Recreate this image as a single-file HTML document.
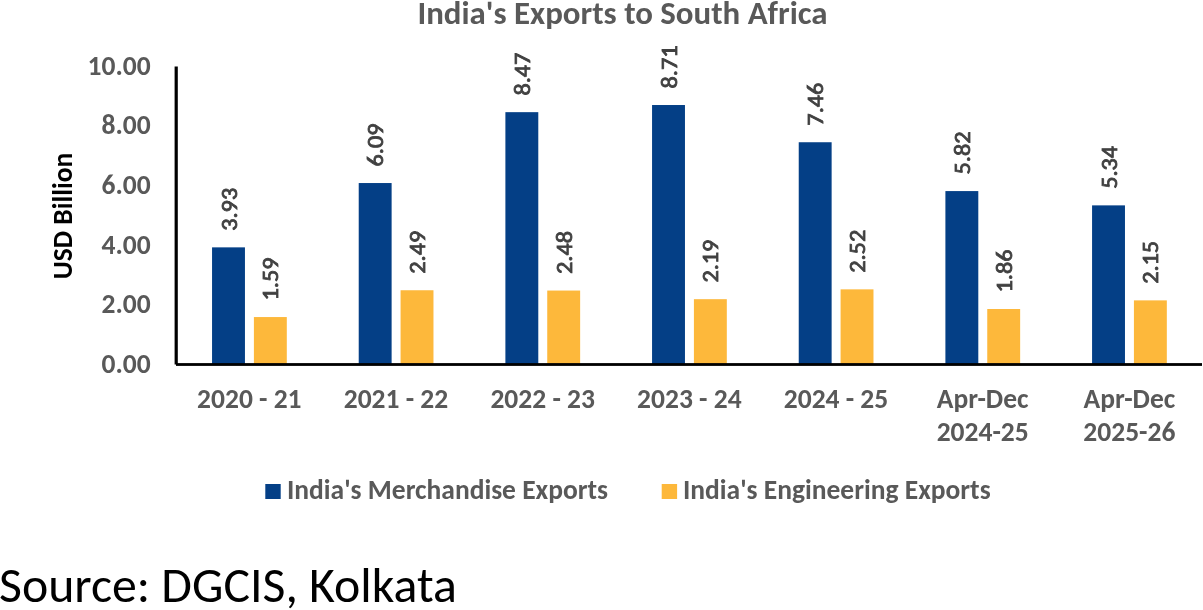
<!DOCTYPE html>
<html><head><meta charset="utf-8"><title>India's Exports to South Africa</title>
<style>
html,body{margin:0;padding:0;background:#fff;}
body{width:1203px;height:610px;overflow:hidden;}
svg{display:block;font-family:Carlito, 'Liberation Sans', Arial, sans-serif;will-change:transform;}
</style></head>
<body>
<svg width="1203" height="610" viewBox="0 0 1203 610">
<rect width="1203" height="610" fill="#fff"/>
<text x="622.5" y="23.5" font-size="32.9" font-weight="700" fill="#595959" text-anchor="middle" textLength="410.23" lengthAdjust="spacingAndGlyphs">India's Exports to South Africa</text>
<text x="150.7" y="372.70" font-size="27.5" font-weight="700" fill="#595959" text-anchor="end" textLength="49.17" lengthAdjust="spacingAndGlyphs">0.00</text>
<text x="150.7" y="313.14" font-size="27.5" font-weight="700" fill="#595959" text-anchor="end" textLength="49.17" lengthAdjust="spacingAndGlyphs">2.00</text>
<text x="150.7" y="253.58" font-size="27.5" font-weight="700" fill="#595959" text-anchor="end" textLength="49.17" lengthAdjust="spacingAndGlyphs">4.00</text>
<text x="150.7" y="194.02" font-size="27.5" font-weight="700" fill="#595959" text-anchor="end" textLength="49.17" lengthAdjust="spacingAndGlyphs">6.00</text>
<text x="150.7" y="134.46" font-size="27.5" font-weight="700" fill="#595959" text-anchor="end" textLength="49.17" lengthAdjust="spacingAndGlyphs">8.00</text>
<text x="150.7" y="74.90" font-size="27.5" font-weight="700" fill="#595959" text-anchor="end" textLength="63.11" lengthAdjust="spacingAndGlyphs">10.00</text>
<text transform="translate(72.2 216.05) rotate(-90)" font-size="27.5" font-weight="700" fill="#000" text-anchor="middle" textLength="126.48" lengthAdjust="spacingAndGlyphs">USD Billion</text>
<rect x="212.05" y="247.36" width="32.9" height="117.04" fill="#043F86"/>
<rect x="253.90" y="317.05" width="32.9" height="47.35" fill="#FDB83B"/>
<text transform="translate(236.60 230.76) rotate(-90) scale(1 0.92)" font-size="24.2" fill="#404040" stroke="#404040" stroke-width="0.9" textLength="42.92" lengthAdjust="spacingAndGlyphs">3.93</text>
<text transform="translate(278.45 300.45) rotate(-90) scale(1 0.92)" font-size="24.2" fill="#404040" stroke="#404040" stroke-width="0.9" textLength="42.92" lengthAdjust="spacingAndGlyphs">1.59</text>
<text x="249.33" y="408" font-size="27.5" font-weight="700" fill="#595959" text-anchor="middle" textLength="104.48" lengthAdjust="spacingAndGlyphs">2020 - 21</text>
<rect x="358.72" y="183.04" width="32.9" height="181.36" fill="#043F86"/>
<rect x="400.57" y="290.25" width="32.9" height="74.15" fill="#FDB83B"/>
<text transform="translate(383.27 166.44) rotate(-90) scale(1 0.92)" font-size="24.2" fill="#404040" stroke="#404040" stroke-width="0.9" textLength="42.92" lengthAdjust="spacingAndGlyphs">6.09</text>
<text transform="translate(425.12 273.65) rotate(-90) scale(1 0.92)" font-size="24.2" fill="#404040" stroke="#404040" stroke-width="0.9" textLength="42.92" lengthAdjust="spacingAndGlyphs">2.49</text>
<text x="396.00" y="408" font-size="27.5" font-weight="700" fill="#595959" text-anchor="middle" textLength="104.48" lengthAdjust="spacingAndGlyphs">2021 - 22</text>
<rect x="505.39" y="112.16" width="32.9" height="252.24" fill="#043F86"/>
<rect x="547.24" y="290.55" width="32.9" height="73.85" fill="#FDB83B"/>
<text transform="translate(529.94 95.56) rotate(-90) scale(1 0.92)" font-size="24.2" fill="#404040" stroke="#404040" stroke-width="0.9" textLength="42.92" lengthAdjust="spacingAndGlyphs">8.47</text>
<text transform="translate(571.79 273.95) rotate(-90) scale(1 0.92)" font-size="24.2" fill="#404040" stroke="#404040" stroke-width="0.9" textLength="42.92" lengthAdjust="spacingAndGlyphs">2.48</text>
<text x="542.67" y="408" font-size="27.5" font-weight="700" fill="#595959" text-anchor="middle" textLength="104.48" lengthAdjust="spacingAndGlyphs">2022 - 23</text>
<rect x="652.06" y="105.02" width="32.9" height="259.38" fill="#043F86"/>
<rect x="693.91" y="299.18" width="32.9" height="65.22" fill="#FDB83B"/>
<text transform="translate(676.61 88.42) rotate(-90) scale(1 0.92)" font-size="24.2" fill="#404040" stroke="#404040" stroke-width="0.9" textLength="42.92" lengthAdjust="spacingAndGlyphs">8.71</text>
<text transform="translate(718.46 282.58) rotate(-90) scale(1 0.92)" font-size="24.2" fill="#404040" stroke="#404040" stroke-width="0.9" textLength="42.92" lengthAdjust="spacingAndGlyphs">2.19</text>
<text x="689.34" y="408" font-size="27.5" font-weight="700" fill="#595959" text-anchor="middle" textLength="104.48" lengthAdjust="spacingAndGlyphs">2023 - 24</text>
<rect x="798.73" y="142.24" width="32.9" height="222.16" fill="#043F86"/>
<rect x="840.58" y="289.35" width="32.9" height="75.05" fill="#FDB83B"/>
<text transform="translate(823.28 125.64) rotate(-90) scale(1 0.92)" font-size="24.2" fill="#404040" stroke="#404040" stroke-width="0.9" textLength="42.92" lengthAdjust="spacingAndGlyphs">7.46</text>
<text transform="translate(865.13 272.75) rotate(-90) scale(1 0.92)" font-size="24.2" fill="#404040" stroke="#404040" stroke-width="0.9" textLength="42.92" lengthAdjust="spacingAndGlyphs">2.52</text>
<text x="836.01" y="408" font-size="27.5" font-weight="700" fill="#595959" text-anchor="middle" textLength="104.48" lengthAdjust="spacingAndGlyphs">2024 - 25</text>
<rect x="945.40" y="191.08" width="32.9" height="173.32" fill="#043F86"/>
<rect x="987.25" y="309.01" width="32.9" height="55.39" fill="#FDB83B"/>
<text transform="translate(969.95 174.48) rotate(-90) scale(1 0.92)" font-size="24.2" fill="#404040" stroke="#404040" stroke-width="0.9" textLength="42.92" lengthAdjust="spacingAndGlyphs">5.82</text>
<text transform="translate(1011.80 292.41) rotate(-90) scale(1 0.92)" font-size="24.2" fill="#404040" stroke="#404040" stroke-width="0.9" textLength="42.92" lengthAdjust="spacingAndGlyphs">1.86</text>
<text x="982.68" y="408" font-size="27.5" font-weight="700" fill="#595959" text-anchor="middle" textLength="91.77" lengthAdjust="spacingAndGlyphs">Apr-Dec</text>
<text x="982.68" y="441" font-size="27.5" font-weight="700" fill="#595959" text-anchor="middle" textLength="92.06" lengthAdjust="spacingAndGlyphs">2024-25</text>
<rect x="1092.07" y="205.37" width="32.9" height="159.03" fill="#043F86"/>
<rect x="1133.92" y="300.37" width="32.9" height="64.03" fill="#FDB83B"/>
<text transform="translate(1116.62 188.77) rotate(-90) scale(1 0.92)" font-size="24.2" fill="#404040" stroke="#404040" stroke-width="0.9" textLength="42.92" lengthAdjust="spacingAndGlyphs">5.34</text>
<text transform="translate(1158.47 283.77) rotate(-90) scale(1 0.92)" font-size="24.2" fill="#404040" stroke="#404040" stroke-width="0.9" textLength="42.92" lengthAdjust="spacingAndGlyphs">2.15</text>
<text x="1129.36" y="408" font-size="27.5" font-weight="700" fill="#595959" text-anchor="middle" textLength="91.77" lengthAdjust="spacingAndGlyphs">Apr-Dec</text>
<text x="1129.36" y="441" font-size="27.5" font-weight="700" fill="#595959" text-anchor="middle" textLength="92.06" lengthAdjust="spacingAndGlyphs">2025-26</text>
<rect x="174.6" y="66.5" width="3.2" height="298" fill="#000"/>
<rect x="176" y="363.1" width="1026" height="2.8" fill="#000"/>
<rect x="265.3" y="484" width="15.4" height="15" fill="#043F86"/>
<text x="287" y="499" font-size="27.5" font-weight="700" fill="#595959" textLength="321.06" lengthAdjust="spacingAndGlyphs">India's Merchandise Exports</text>
<rect x="661.7" y="484" width="15.4" height="15" fill="#FDB83B"/>
<text x="683" y="499" font-size="27.5" font-weight="700" fill="#595959" textLength="307.61" lengthAdjust="spacingAndGlyphs">India's Engineering Exports</text>
<text x="-1" y="602" font-size="49.8" fill="#000" textLength="457.83" lengthAdjust="spacingAndGlyphs">Source: DGCIS, Kolkata</text>
</svg>
</body></html>
